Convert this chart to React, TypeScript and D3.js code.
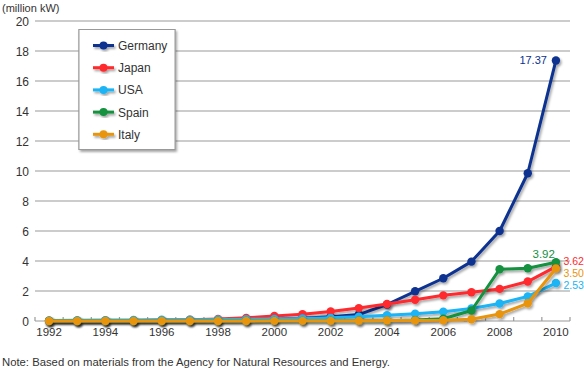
import React from 'react';
import * as d3 from 'd3';

const years = d3.range(1992, 2011);
const countries = ['Germany', 'Japan', 'USA', 'Spain', 'Italy'];
const colors = ['#0a3190', '#ff2a2e', '#1ab4f5', '#12913f', '#e8940e'];

const germany = [0.01, 0.01, 0.01, 0.02, 0.03, 0.04, 0.05, 0.07, 0.11, 0.19, 0.28, 0.43, 1.1, 1.98, 2.85, 3.96, 6.0, 9.85, 17.37];
const japan = [0.02, 0.02, 0.03, 0.04, 0.06, 0.09, 0.13, 0.21, 0.33, 0.45, 0.64, 0.86, 1.13, 1.42, 1.71, 1.92, 2.14, 2.63, 3.62];
const usa = [0.04, 0.05, 0.06, 0.07, 0.08, 0.09, 0.1, 0.12, 0.14, 0.17, 0.21, 0.28, 0.38, 0.48, 0.62, 0.83, 1.17, 1.64, 2.53];
const spain = [0, 0, 0, 0, 0, 0, 0, 0, 0.01, 0.01, 0.01, 0.02, 0.02, 0.06, 0.15, 0.7, 3.45, 3.52, 3.92];
const italy = [0, 0, 0, 0, 0, 0, 0, 0, 0.01, 0.01, 0.01, 0.02, 0.03, 0.04, 0.05, 0.12, 0.46, 1.18, 3.5];
const series = [germany, japan, usa, spain, italy];

const yTicks = d3.range(0, 21, 2);
const xLabels = d3.range(1992, 2011, 2);

// end labels: text, dx, dy relative to last point
const endLabels = [
  { text: '17.37', anchor: 'end', dx: -9, dy: 4, size: 11 },
  { text: '3.62', anchor: 'start', dx: 7.5, dy: -1.7, size: 10.5 },
  { text: '2.53', anchor: 'start', dx: 7.5, dy: 5.9, size: 10.5 },
  { text: '3.92', anchor: 'end', dx: -1, dy: -4.5, size: 11.5 },
  { text: '3.50', anchor: 'start', dx: 7.5, dy: 8.5, size: 10.5 },
];

export default function App() {
  const width = 584;
  const height = 370;
  const left = 35;
  const right = 570;
  const top = 21;
  const bottom = 321;

  const x = d3.scaleBand<number>().domain(years).range([left, right]);
  const y = d3.scaleLinear().domain([0, 20]).range([bottom, top]);
  const cx = (yr: number) => (x(yr) as number) + x.bandwidth() / 2;

  const line = d3
    .line<number>()
    .x((_, i) => cx(years[i]))
    .y((d) => y(d));

  const font = 'Liberation Sans, Arial, Helvetica, sans-serif';

  return (
    <svg
      width={width}
      height={height}
      style={{ position: 'absolute', left: 0, top: 0, fontFamily: font }}
    >
      <defs>
        <filter id="shadow" x="-20%" y="-20%" width="140%" height="140%">
          <feDropShadow dx="1.5" dy="2" stdDeviation="1.2" floodColor="#000" floodOpacity="0.35" />
        </filter>
      </defs>
      <rect width={width} height={height} fill="#fff" />

      <text x={2} y={12} fontSize={11} fill="#333">(million kW)</text>

      {yTicks.map((t) => (
        <g key={t}>
          {t > 0 && (
            <line x1={left} x2={right} y1={y(t)} y2={y(t)} stroke="#9a9a9a" strokeWidth={1.2} />
          )}
          <text x={29} y={y(t) + 4.5} fontSize={12} textAnchor="end" fill="#333">{t}</text>
        </g>
      ))}

      {/* x axis */}
      <line x1={left} x2={right} y1={bottom} y2={bottom} stroke="#9a9a9a" strokeWidth={1.2} />
      {years.concat([2011]).map((yr, i) => {
        const xx = i < years.length ? (x(yr) as number) : right;
        return <line key={yr} x1={xx} x2={xx} y1={bottom} y2={bottom - 4} stroke="#9a9a9a" strokeWidth={1.2} />;
      })}
      {xLabels.map((yr) => (
        <text key={yr} x={cx(yr)} y={336} fontSize={11.5} textAnchor="middle" fill="#333">{yr}</text>
      ))}

      {series.map((s, i) => (
        <g key={countries[i]} filter="url(#shadow)">
          <path d={line(s) as string} fill="none" stroke={colors[i]} strokeWidth={3} strokeLinejoin="round" />
          {s.map((v, j) => (
            <circle key={j} cx={cx(years[j])} cy={y(v)} r={4.2} fill={colors[i]} />
          ))}
        </g>
      ))}

      {series.map((s, i) => {
        const lb = endLabels[i];
        return (
          <text
            key={countries[i]}
            x={cx(2010) + lb.dx}
            y={y(s[s.length - 1]) + lb.dy}
            fontSize={lb.size}
            textAnchor={lb.anchor as any}
            fill={colors[i]}
          >
            {lb.text}
          </text>
        );
      })}

      {/* legend */}
      <g filter="url(#shadow)">
        <rect x={79} y={29.5} width={96} height={120} fill="#fff" stroke="#999" strokeWidth={1} />
      </g>
      <rect x={79} y={29.5} width={96} height={120} fill="#fff" stroke="#999" strokeWidth={1} />
      {countries.map((c, i) => {
        const ly = 45.5 + i * 22.2;
        return (
          <g key={c}>
            <g filter="url(#shadow)">
              <line x1={93} x2={114} y1={ly} y2={ly} stroke={colors[i]} strokeWidth={3} />
              <circle cx={103.5} cy={ly} r={4} fill={colors[i]} />
            </g>
            <text x={118} y={ly + 4.5} fontSize={12} fill="#333">{c}</text>
          </g>
        );
      })}

      <text x={2} y={366} fontSize={11.3} fill="#333">
        Note: Based on materials from the Agency for Natural Resources and Energy.
      </text>
    </svg>
  );
}
